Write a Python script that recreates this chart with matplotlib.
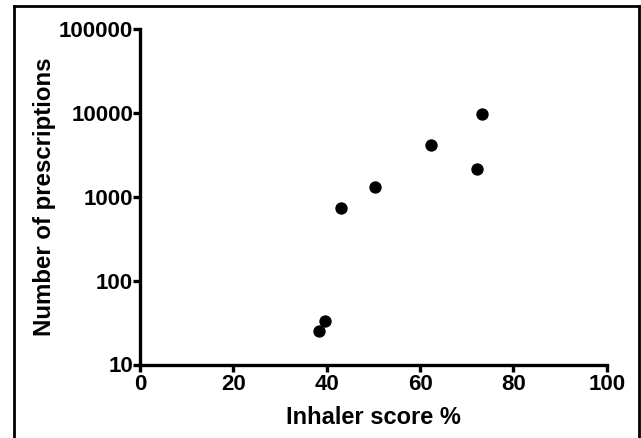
import matplotlib
matplotlib.use("Agg")
import matplotlib.pyplot as plt
from matplotlib.lines import Line2D

inhaler_score = [38.3, 39.6, 43.1, 50.4, 62.4, 72.3, 73.2]
prescriptions = [25, 33, 730, 1330, 4200, 2150, 9800]
x_ticks = [0, 20, 40, 60, 80, 100]
y_ticks = [10, 100, 1000, 10000, 100000]
y_tick_labels = ["10", "100", "1000", "10000", "100000"]

plt.rcParams['font.family'] = ['Liberation Sans', 'DejaVu Sans']
plt.rcParams['font.weight'] = 'bold'

fig = plt.figure(figsize=(6.41, 4.38), dpi=100)
ax = fig.add_axes([140/641, 1-364.5/438, (606.7-140)/641, (364.5-29.3)/438])

ax.scatter(inhaler_score, prescriptions, s=(7.9)**2, color='black', zorder=3, clip_on=False)
ax.set_yscale('log')
ax.set_xlim(0, 100)
ax.set_ylim(10, 100000)
ax.set_xticks(x_ticks)
ax.set_xticklabels([str(t) for t in x_ticks])
ax.set_yticks(y_ticks)
ax.set_yticklabels(y_tick_labels)
ax.yaxis.set_minor_locator(matplotlib.ticker.NullLocator())

for s in ['top', 'right']:
    ax.spines[s].set_visible(False)
for s in ['left', 'bottom']:
    ax.spines[s].set_linewidth(2.4)
    ax.spines[s].set_capstyle('projecting')
ax.tick_params(axis='both', which='major', length=5, width=2.4, direction='out',
               labelsize=16)
ax.tick_params(axis='y', pad=0)
ax.tick_params(axis='x', pad=1.5)
for lab in ax.get_xticklabels() + ax.get_yticklabels():
    lab.set_fontweight('bold')

ax.set_xlabel("Inhaler score %", fontsize=17, fontweight='bold', labelpad=8)
ax.set_ylabel("Number of prescriptions", fontsize=17.3, fontweight='bold', labelpad=2)

# outer frame
frame_kw = dict(color='black', linewidth=2, transform=fig.transFigure, clip_on=False)
x0, x1 = 13.5/641, 638.5/641
y0, y1 = 0.0, 1 - 5.5/438
fig.add_artist(Line2D([x0, x1], [y1, y1], **frame_kw))
fig.add_artist(Line2D([x0, x0], [y0, y1], **frame_kw))
fig.add_artist(Line2D([x1, x1], [y0, y1], **frame_kw))

fig.savefig("out.png", dpi=100)
